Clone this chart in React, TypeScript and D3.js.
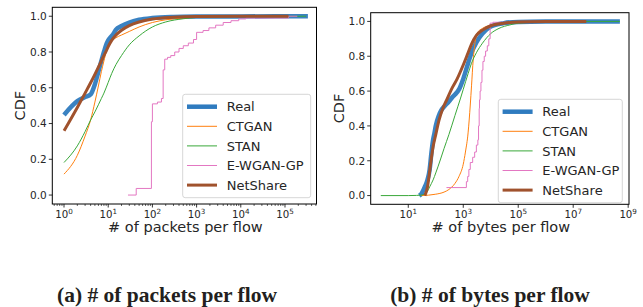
import React from "react";
import * as d3 from "d3";

type Pt = [number, number];

const seriesNames = ["Real", "CTGAN", "STAN", "E-WGAN-GP", "NetShare"];
const seriesColors = ["#2f7bbf", "#ff7f0e", "#3aa83a", "#e377c2", "#a0522d"];
const seriesWidths = [4.5, 1, 1, 1, 3];
const seriesStep = [false, false, false, true, false];

const yTicks = [0, 0.2, 0.4, 0.6, 0.8, 1.0];
const pktTickExps = [0, 1, 2, 3, 4, 5];
const byteTickExps = [1, 3, 5, 7, 9];

// (a) # of packets per flow
const pktReal: Pt[] = [[1,0.448],[2,0.525],[3,0.548],[4,0.563],[5,0.62],[6,0.69],[7,0.75],[8,0.8],[9,0.84],[10,0.865],[12,0.89],[13,0.9],[15,0.925],[20,0.945],[30,0.965],[50,0.98],[100,0.99],[300,0.996],[1000,0.998],[10000,0.999],[330000,1]];
const pktCtgan: Pt[] = [[1,0.117],[2,0.222],[3,0.33],[4,0.42],[5,0.52],[6,0.61],[7,0.69],[8,0.75],[9,0.8],[10,0.83],[12,0.86],[15,0.88],[20,0.895],[30,0.915],[50,0.94],[100,0.965],[200,0.98],[500,0.99],[1000,0.995],[10000,0.999],[100000,1]];
const pktStan: Pt[] = [[1,0.182],[2,0.275],[3,0.355],[4,0.42],[5,0.465],[6,0.505],[7,0.54],[8,0.57],[10,0.63],[12,0.68],[15,0.73],[20,0.78],[30,0.84],[50,0.89],[100,0.94],[200,0.968],[500,0.986],[1000,0.993],[10000,0.999],[300000,1]];
const pktEwgan: Pt[] = [[28,0],[43,0.037],[95,0.41],[100,0.51],[130,0.52],[160,0.54],[175,0.7],[190,0.76],[220,0.77],[260,0.78],[320,0.8],[400,0.82],[500,0.835],[650,0.85],[850,0.87],[1000,0.91],[1400,0.92],[1900,0.935],[2700,0.95],[4000,0.965],[6000,0.975],[9000,0.985],[13000,0.99],[120000,1],[190000,1]];
const pktNet: Pt[] = [[1,0.359],[2,0.49],[3,0.57],[4,0.628],[5,0.675],[6,0.715],[7,0.75],[8,0.78],[9,0.805],[10,0.83],[12,0.865],[15,0.895],[20,0.922],[30,0.948],[50,0.968],[100,0.984],[300,0.994],[1000,0.998],[10000,0.9995],[120000,1]];

// (b) # of bytes per flow
const byteReal: Pt[] = [[25,0],[30,0.01],[40,0.05],[50,0.09],[60,0.15],[70,0.25],[80,0.32],[90,0.36],[100,0.4],[130,0.46],[160,0.49],[200,0.51],[300,0.54],[400,0.565],[500,0.58],[700,0.61],[1000,0.67],[1500,0.76],[2000,0.82],[3000,0.88],[5000,0.93],[10000,0.97],[30000,0.99],[100000,0.997],[1000000,0.999],[500000000,1]];
const byteCtgan: Pt[] = [[30,0],[100,0.008],[200,0.02],[300,0.035],[500,0.07],[700,0.11],[1000,0.18],[1200,0.25],[1500,0.36],[1800,0.52],[2000,0.63],[2300,0.78],[2700,0.88],[3100,0.93],[5000,0.96],[10000,0.978],[30000,0.99],[100000,0.997],[1000000,1]];
const byteStan: Pt[] = [[1,0],[10,0],[20,0.001],[30,0.003],[40,0.01],[50,0.025],[60,0.05],[80,0.09],[100,0.13],[150,0.21],[200,0.27],[300,0.35],[500,0.46],[800,0.56],[1000,0.61],[1500,0.7],[2000,0.76],[3000,0.82],[5000,0.875],[10000,0.93],[20000,0.96],[50000,0.98],[100000,0.99],[1000000,0.998],[10000000,1],[500000000,1]];
const byteEwgan: Pt[] = [[245,0.046],[1300,0.08],[1450,0.11],[1600,0.15],[1800,0.19],[2200,0.22],[2600,0.25],[3000,0.29],[3400,0.32],[3600,0.4],[3800,0.5],[3900,0.55],[4100,0.6],[4400,0.65],[4800,0.72],[5200,0.77],[5800,0.8],[6500,0.83],[7500,0.86],[8500,0.9],[9500,0.99],[12000,0.995],[100000,1],[300000,1]];
const byteNet: Pt[] = [[40,0],[50,0.05],[60,0.14],[70,0.22],[80,0.28],[100,0.35],[130,0.43],[180,0.5],[250,0.55],[400,0.62],[600,0.67],[1000,0.75],[1500,0.82],[2000,0.87],[3000,0.92],[5000,0.95],[10000,0.975],[30000,0.99],[100000,0.996],[1000000,0.999],[30000000,1]];

const pktSeries = [pktReal, pktCtgan, pktStan, pktEwgan, pktNet];
const byteSeries = [byteReal, byteCtgan, byteStan, byteEwgan, byteNet];

const FONT = "DejaVu Sans";
const TXT = "#262626";

type PanelProps = {
  series: Pt[][];
  x0: number; x1: number; y0: number; y1: number;
  xDomain: [number, number];
  tickExps: number[];
  minor: boolean;
  xLabel: string;
  caption: string;
  captionX: number;
  legendX: number; legendY: number; legendW: number;
  id: string;
};

function Panel(p: PanelProps) {
  const x = d3.scaleLog().domain(p.xDomain).range([p.x0, p.x1]);
  const y = d3.scaleLinear().domain([-0.05, 1.05]).range([p.y1, p.y0]);
  const minorTicks: number[] = [];
  if (p.minor) {
    for (let e = -1; e <= 6; e++) {
      for (let m = 2; m <= 9; m++) {
        const v = m * Math.pow(10, e);
        if (v > p.xDomain[0] && v < p.xDomain[1]) minorTicks.push(v);
      }
    }
  }
  const clipId = "clip-" + p.id;
  return (
    <g>
      <defs>
        <clipPath id={clipId}>
          <rect x={p.x0} y={p.y0} width={p.x1 - p.x0} height={p.y1 - p.y0} />
        </clipPath>
      </defs>
      <g clipPath={`url(#${clipId})`}>
        {p.series.map((data, i) => {
          const line = d3
            .line<Pt>()
            .x((d) => x(d[0]))
            .y((d) => y(d[1]))
            .curve(seriesStep[i] ? d3.curveStepAfter : d3.curveMonotoneX);
          return (
            <path
              key={i}
              d={line(data) || ""}
              fill="none"
              stroke={seriesColors[i]}
              strokeWidth={seriesWidths[i]}
              strokeLinejoin="round"
              opacity={i === 0 ? 0.95 : 1}
            />
          );
        })}
      </g>
      <rect x={p.x0} y={p.y0} width={p.x1 - p.x0} height={p.y1 - p.y0} fill="none" stroke="#000" strokeWidth={1} />
      {yTicks.map((t) => (
        <g key={"y" + t}>
          <line x1={p.x0 - 3.5} x2={p.x0} y1={y(t)} y2={y(t)} stroke="#000" strokeWidth={0.8} />
          <text x={p.x0 - 5.5} y={y(t) + 3.8} fontSize={10.5} fontFamily={FONT} textAnchor="end" fill={TXT}>
            {t.toFixed(1)}
          </text>
        </g>
      ))}
      {minorTicks.map((v, i) => (
        <line key={"m" + i} x1={x(v)} x2={x(v)} y1={p.y1} y2={p.y1 + 2} stroke="#000" strokeWidth={0.6} />
      ))}
      {p.tickExps.map((e) => {
        const v = Math.pow(10, e);
        return (
          <g key={"x" + e}>
            <line x1={x(v)} x2={x(v)} y1={p.y1} y2={p.y1 + 3.5} stroke="#000" strokeWidth={0.8} />
            <text x={x(v)} y={p.y1 + 14} fontSize={10.2} fontFamily={FONT} textAnchor="middle" fill={TXT}>
              10<tspan dy={-4.3} fontSize={7.2}>{e}</tspan>
            </text>
          </g>
        );
      })}
      <text x={(p.x0 + p.x1) / 2 + 1} y={232} fontSize={14.5} fontFamily={FONT} textAnchor="middle" fill={TXT}>
        {p.xLabel}
      </text>
      <text
        transform={`translate(${p.x0 - 27},${(p.y0 + p.y1) / 2}) rotate(-90)`}
        fontSize={14.5}
        fontFamily={FONT}
        textAnchor="middle"
        fill={TXT}
      >
        CDF
      </text>
      <g>
        <rect x={p.legendX} y={p.legendY} width={p.legendW} height={103.4} rx={2.5} fill="#fff" fillOpacity={0.8} stroke="#cccccc" strokeWidth={0.8} />
        {seriesNames.map((n, i) => {
          const cy = p.legendY + 12.4 + i * 19.6;
          return (
            <g key={n}>
              <line x1={p.legendX + 4.3} x2={p.legendX + 34.3} y1={cy} y2={cy} stroke={seriesColors[i]} strokeWidth={seriesWidths[i]} />
              <text x={p.legendX + 44} y={cy + 4.7} fontSize={13} fontFamily={FONT} fill={TXT}>
                {n}
              </text>
            </g>
          );
        })}
      </g>
      <text x={p.captionX} y={302} fontSize={21.5} fontWeight="bold" fontFamily="Liberation Serif" textAnchor="middle" fill="#231f20">
        {p.caption}
      </text>
    </g>
  );
}

export default function App() {
  return (
    <svg width={643} height={307} viewBox="0 0 643 307" style={{ display: "block", position: "absolute", left: 0, top: 0 }}>
      <rect width={643} height={307} fill="#fff" />
      <Panel
        id="a"
        series={pktSeries}
        x0={52.3}
        x1={316.5}
        y0={7.3}
        y1={204}
        xDomain={[Math.pow(10, -0.265), Math.pow(10, 5.713)]}
        tickExps={pktTickExps}
        minor={true}
        xLabel="# of packets per flow"
        caption="(a) # of packets per flow"
        captionX={167}
        legendX={182.7}
        legendY={94.3}
        legendW={128}
      />
      <Panel
        id="b"
        series={byteSeries}
        x0={370.7}
        x1={629}
        y0={12.7}
        y1={204.3}
        xDomain={[Math.pow(10, -0.367), Math.pow(10, 9.03)]}
        tickExps={byteTickExps}
        minor={false}
        xLabel="# of bytes per flow"
        caption="(b) # of bytes per flow"
        captionX={490}
        legendX={498.3}
        legendY={99.3}
        legendW={124}
      />
    </svg>
  );
}
